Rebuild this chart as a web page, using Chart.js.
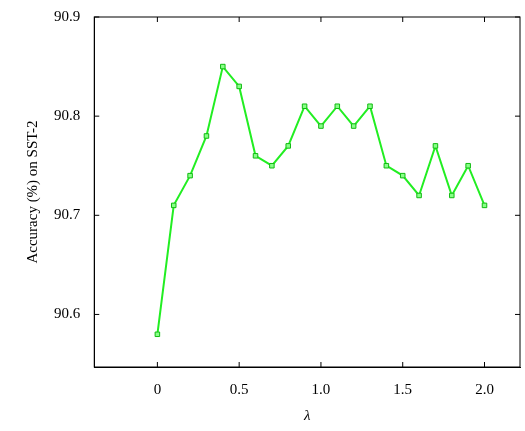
<!DOCTYPE html>
<html>
<head>
<meta charset="utf-8">
<script src="https://cdn.jsdelivr.net/npm/chart.js@4"></script>
<style>
  html, body { margin: 0; padding: 0; background: #fff; }
  #wrap { width: 525px; height: 431px; }
</style>
</head>
<body>
<div id="wrap"><canvas id="chart" width="525" height="431"></canvas></div>
<script>
const lambdas = [0, 0.1, 0.2, 0.3, 0.4, 0.5, 0.6, 0.7, 0.8, 0.9, 1.0, 1.1, 1.2, 1.3, 1.4, 1.5, 1.6, 1.7, 1.8, 1.9, 2.0];
const accuracy = [90.58, 90.71, 90.74, 90.78, 90.85, 90.83, 90.76, 90.75, 90.77, 90.81, 90.79, 90.81, 90.79, 90.81, 90.75, 90.74, 90.72, 90.77, 90.72, 90.75, 90.71];
const xTicks = [0, 0.5, 1.0, 1.5, 2.0];
const yTicks = [90.6, 90.7, 90.8, 90.9];

const font = { family: '"Liberation Serif", "DejaVu Serif", serif', size: 15 };

new Chart(document.getElementById('chart'), {
  type: 'line',
  data: {
    datasets: [{
      data: lambdas.map((x, i) => ({ x, y: accuracy[i] })),
      borderColor: '#22ee22',
      borderWidth: 2,
      pointStyle: 'rect',
      pointRadius: 3.2,
      pointBackgroundColor: '#88ff88',
      pointBorderColor: '#11bb11',
      pointBorderWidth: 1,
      tension: 0
    }]
  },
  options: {
    responsive: false,
    animation: false,
    layout: { padding: { top: 17, right: 4, left: 20, bottom: 2 } },
    plugins: { legend: { display: false }, tooltip: { enabled: false } },
    scales: {
      x: {
        type: 'linear',
        min: -0.386,
        max: 2.217,
        afterBuildTicks: (axis) => { axis.ticks = xTicks.map(v => ({ value: v })); },
        ticks: { color: '#000', font, padding: 6, callback: (v) => v === 0 ? '0' : v.toFixed(1) },
        grid: { display: false },
        border: { color: '#000', width: 1 },
        title: { display: true, text: 'λ', color: '#000', font: { ...font, style: 'italic' }, padding: { top: 2 } }
      },
      y: {
        min: 90.547,
        max: 90.9,
        afterBuildTicks: (axis) => { axis.ticks = yTicks.map(v => ({ value: v })); },
        ticks: { color: '#000', font, padding: 6, callback: (v) => v.toFixed(1) },
        grid: { display: false },
        border: { color: '#000', width: 1 },
        title: { display: true, text: 'Accuracy (%) on SST-2', color: '#000', font, padding: { bottom: 6 } }
      }
    }
  },
  plugins: [{
    id: 'frame',
    afterDraw(chart) {
      const { ctx, chartArea: a, scales } = chart;
      ctx.save();
      ctx.strokeStyle = '#000';
      ctx.lineWidth = 1;
      ctx.strokeRect(a.left, a.top, a.right - a.left, a.bottom - a.top);
      ctx.beginPath();
      xTicks.forEach(v => {
        const x = scales.x.getPixelForValue(v);
        ctx.moveTo(x, a.bottom); ctx.lineTo(x, a.bottom - 5);
        ctx.moveTo(x, a.top); ctx.lineTo(x, a.top + 5);
      });
      yTicks.forEach(v => {
        const y = scales.y.getPixelForValue(v);
        ctx.moveTo(a.left, y); ctx.lineTo(a.left + 5, y);
        ctx.moveTo(a.right, y); ctx.lineTo(a.right - 5, y);
      });
      ctx.stroke();
      ctx.restore();
    }
  }]
});
</script>
</body>
</html>
